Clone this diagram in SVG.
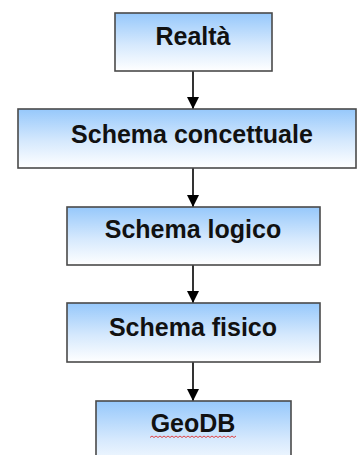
<svg xmlns="http://www.w3.org/2000/svg" width="358" height="455" viewBox="0 0 358 455">
  <defs>
    <linearGradient id="boxFill" x1="0" y1="0" x2="0" y2="1">
      <stop offset="0" stop-color="#96c8fb"/>
      <stop offset="0.55" stop-color="#d6e9fd"/>
      <stop offset="1" stop-color="#ffffff"/>
    </linearGradient>
    <marker id="arrow" viewBox="0 0 12 12" refX="12" refY="6" markerWidth="12" markerHeight="12" markerUnits="userSpaceOnUse" orient="auto">
      <path d="M0,0 L12,6 L0,12 Z" fill="#000"/>
    </marker>
  </defs>
  <style>
    .box { fill: url(#boxFill); stroke: #4a4a4a; stroke-width: 1.6; }
    .label { font-family: "Liberation Sans", Arial, sans-serif; font-weight: bold; font-size: 25px; fill: #111; text-anchor: middle; }
    .conn { stroke: #000; stroke-width: 1.6; fill: none; marker-end: url(#arrow); }
  </style>
  <rect width="358" height="455" fill="#ffffff"/>

  <g id="connectors">
    <line class="conn" x1="193" y1="71" x2="193" y2="109"/>
    <line class="conn" x1="193" y1="168" x2="193" y2="207"/>
    <line class="conn" x1="193" y1="265" x2="193" y2="303"/>
    <line class="conn" x1="193" y1="362" x2="193" y2="401"/>
  </g>

  <g id="realta">
    <rect class="box" x="115" y="13" width="157" height="58"/>
    <text class="label" x="193" y="45">Realtà</text>
  </g>

  <g id="schema-concettuale">
    <rect class="box" x="18" y="109" width="338" height="59"/>
    <text class="label" x="192" y="143">Schema concettuale</text>
  </g>

  <g id="schema-logico">
    <rect class="box" x="67" y="207" width="253" height="58"/>
    <text class="label" x="193" y="238">Schema logico</text>
  </g>

  <g id="schema-fisico">
    <rect class="box" x="67" y="303" width="253" height="59"/>
    <text class="label" x="193" y="336">Schema fisico</text>
  </g>

  <g id="geodb">
    <rect class="box" x="96" y="401" width="195" height="70"/>
    <text class="label" x="193" y="432">GeoDB</text>
    <!-- spell-check squiggle under the word -->
    <path d="M150,437.5 l2,-1.5 l2,1.5 l2,-1.5 l2,1.5 l2,-1.5 l2,1.5 l2,-1.5 l2,1.5 l2,-1.5 l2,1.5 l2,-1.5 l2,1.5 l2,-1.5 l2,1.5 l2,-1.5 l2,1.5 l2,-1.5 l2,1.5 l2,-1.5 l2,1.5 l2,-1.5 l2,1.5 l2,-1.5 l2,1.5 l2,-1.5 l2,1.5 l2,-1.5 l2,1.5 l2,-1.5 l2,1.5 l2,-1.5 l2,1.5 l2,-1.5 l2,1.5 l2,-1.5 l2,1.5 l2,-1.5 l2,1.5 l2,-1.5 l2,1.5 l2,-1.5 l2,1.5 l2,-1.5" fill="none" stroke="#e03030" stroke-width="0.9"/>
  </g>
</svg>
